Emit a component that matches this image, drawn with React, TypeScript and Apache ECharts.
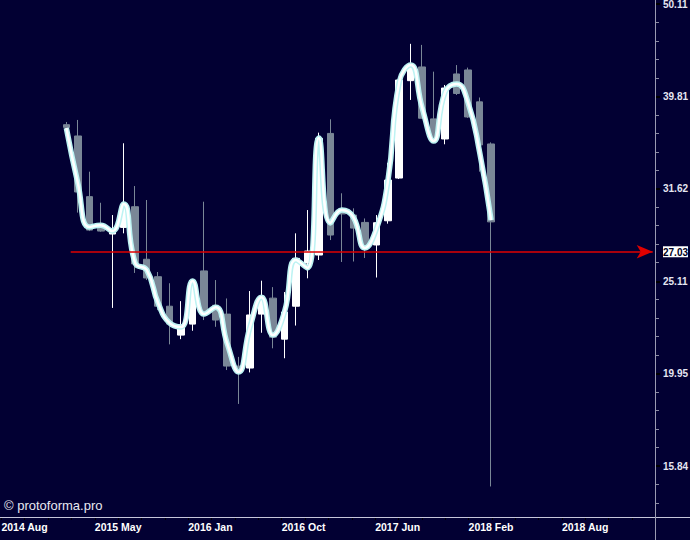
import React, { useEffect, useRef } from "react";
import * as echarts from "echarts";

// Monthly candles, Jan 2015 .. Feb 2018
const months = [
  "2015-01","2015-02","2015-03","2015-04","2015-05","2015-06","2015-07","2015-08","2015-09","2015-10","2015-11","2015-12",
  "2016-01","2016-02","2016-03","2016-04","2016-05","2016-06","2016-07","2016-08","2016-09","2016-10","2016-11","2016-12",
  "2017-01","2017-02","2017-03","2017-04","2017-05","2017-06","2017-07","2017-08","2017-09","2017-10","2017-11","2017-12",
  "2018-01","2018-02",
];
const opens = [37.1, 36.07, 31.01, 28.67, 28.25, 28.72, 30.24, 26.53, 25.4, 23.6, 21.96, 22.57, 25.77, 23.66, 23.14, 20.33, 20.23, 23.14, 24.08, 21.74, 23.6, 26.28, 26.81, 36.3, 30.07, 29.62, 29.08, 27.49, 29.2, 32.48, 41.4, 42.84, 37.64, 35.8, 42.1, 42.52, 39.27, 35.36];
const closes = [36.85, 31.37, 28.53, 28.46, 28.6, 30.37, 26.22, 25.32, 23.6, 22.57, 22.52, 25.0, 23.2, 22.8, 20.33, 20.03, 23.09, 24.2, 21.85, 23.26, 26.59, 27.08, 35.86, 28.18, 29.7, 28.67, 27.35, 29.06, 32.32, 41.47, 42.84, 37.7, 35.98, 40.65, 40.1, 37.82, 35.27, 29.12];
const highs = [37.35, 37.54, 33.0, 30.54, 29.62, 35.42, 31.84, 30.75, 25.7, 24.99, 23.9, 25.25, 30.62, 25.19, 24.06, 20.8, 24.51, 25.15, 24.75, 24.45, 28.3, 29.99, 36.37, 37.6, 31.27, 30.12, 29.37, 29.62, 33.74, 41.78, 45.38, 45.26, 42.34, 40.96, 43.04, 42.77, 39.7, 35.5];
const lows = [36.8, 29.8, 28.46, 28.41, 23.5, 28.3, 25.64, 25.19, 23.37, 21.46, 21.74, 22.2, 22.8, 22.42, 20.13, 18.5, 20.01, 22.09, 21.25, 20.73, 22.49, 25.3, 26.48, 27.83, 26.35, 26.38, 26.61, 25.35, 28.99, 32.4, 39.46, 37.68, 35.71, 35.33, 39.95, 37.73, 33.0, 15.06];
const trend = [36.79, 32.08, 28.75, 28.88, 28.46, 30.44, 26.28, 25.83, 23.78, 22.63, 22.41, 25.13, 23.14, 23.54, 21.53, 20.03, 22.41, 24.14, 21.96, 23.26, 26.48, 25.96, 35.89, 29.04, 29.99, 29.47, 27.29, 28.6, 32.16, 41.26, 43.04, 38.68, 35.62, 40.25, 41.06, 39.17, 34.66, 29.25];

const yTickLabels = ["50.11", "39.81", "31.62", "25.11", "19.95", "15.84"];
const lastPrice = 27.03;
const xTickLabels = ["2014 Aug", "2015 May", "2016 Jan", "2016 Oct", "2017 Jun", "2018 Feb", "2018 Aug"];

const lg = (v: number) => Math.log10(v);

export default function App() {
  const ref = useRef<HTMLDivElement>(null);
  useEffect(() => {
    if (!ref.current) return;
    const chart = echarts.init(ref.current, undefined, { renderer: "svg" });

    const X_MIN = -5.78;
    const X_MAX = 51.28;
    const X_LABEL_START = -5.66;
    const X_LABEL_STEP = 8.14;
    const xLabelPos = xTickLabels.map((_, k) => X_LABEL_START + k * X_LABEL_STEP);
    const xMinorPos: number[] = [];
    for (let k = 0; k < 28; k++) xMinorPos.push(X_LABEL_START + (k * X_LABEL_STEP) / 4);

    const Y_MIN = 1.1448;
    const Y_MAX = 1.7043;
    const yMajor = yTickLabels.map((s) => lg(parseFloat(s)));
    const yMinor: number[] = [];
    for (let v = 1.16; v < Y_MAX; v += 0.02) yMinor.push(v);
    const lastPos = lg(lastPrice);

    const candleData = months.map((_, i) => [i, lg(opens[i]), lg(closes[i]), lg(lows[i]), lg(highs[i])]);
    const trendData = trend.map((v, i) => [i, lg(v)]);
    const gray = "#7a8797";
    const labelFont = "'Liberation Sans', Arial, sans-serif";

    chart.setOption({
      animation: false,
      backgroundColor: "#020033",
      grid: { left: 0, right: 35, top: 0, bottom: 23, containLabel: false, outerBoundsMode: "none" },
      xAxis: {
        type: "value",
        min: X_MIN,
        max: X_MAX,
        splitLine: { show: false },
        axisLine: { show: false, onZero: false },
        axisTick: { show: true, customValues: xMinorPos, length: 3, lineStyle: { color: "#000000" } },
        axisLabel: {
          customValues: xLabelPos,
          formatter: (v: number) => {
            const k = xLabelPos.findIndex((p) => Math.abs(p - v) < 1e-6);
            return k >= 0 ? xTickLabels[k] : "";
          },
          align: "left",
          margin: 4,
          color: "#ffffff",
          fontFamily: labelFont,
          fontWeight: "bold",
          fontSize: 10.5,
        },
      },
      yAxis: [
        {
          type: "value",
          position: "right",
          min: Y_MIN,
          max: Y_MAX,
          splitLine: { show: false },
          axisLine: { show: false, onZero: false },
          axisTick: { show: true, customValues: yMinor, length: 4, lineStyle: { color: "#8a8aa2" } },
          axisLabel: { show: false },
        },
        {
          type: "value",
          position: "right",
          min: Y_MIN,
          max: Y_MAX,
          splitLine: { show: false },
          axisLine: { show: false, onZero: false },
          axisTick: { show: true, customValues: yMajor, length: 5, lineStyle: { color: "#000000", width: 2 } },
          axisLabel: {
            customValues: [...yMajor, lastPos],
            margin: 8,
            color: "#e6e6f2",
            fontFamily: labelFont,
            fontWeight: "bold",
            fontSize: 10,
            formatter: (v: number) => {
              if (Math.abs(v - lastPos) < 1e-9) return "{hl|" + lastPrice.toFixed(2) + "}";
              const k = yMajor.findIndex((p) => Math.abs(p - v) < 1e-9);
              return k >= 0 ? yTickLabels[k] : "";
            },
            rich: {
              hl: {
                backgroundColor: "#ffffff",
                color: "#000022",
                fontWeight: "bold",
                fontSize: 10,
                fontFamily: labelFont,
                padding: [1, 0, 0, 0],
                lineHeight: 10,
              },
            },
          },
        },
      ],
      series: [
        {
          type: "candlestick",
          data: candleData,
          encode: { x: 0, y: [1, 2, 3, 4] },
          barWidth: 7,
          itemStyle: {
            color: "#ffffff",
            color0: gray,
            borderColor: "#ffffff",
            borderColor0: gray,
            borderWidth: 1,
          },
          z: 2,
        },
        {
          type: "line",
          data: trendData,
          smooth: true,
          symbol: "none",
          lineStyle: { color: "#bdf3f3", width: 5.5 },
          z: 3,
        },
        {
          type: "line",
          data: trendData,
          smooth: true,
          symbol: "none",
          lineStyle: { color: "#ffffff", width: 2.5 },
          z: 4,
          markLine: {
            silent: true,
            symbol: ["none", "arrow"],
            symbolSize: [10, 16],
            label: { show: false },
            lineStyle: { color: "#e00000", width: 1.5, type: "solid" },
            data: [[{ coord: [0.38, lastPos] }, { coord: [51.08, lastPos] }]],
            z: 5,
          },
        },
      ],
      graphic: [
        { type: "line", shape: { x1: 0, y1: 517.5, x2: 690, y2: 517.5 }, style: { stroke: "#c6c6da", lineWidth: 1 }, z: 10 },
        { type: "line", shape: { x1: 655.5, y1: 0, x2: 655.5, y2: 540 }, style: { stroke: "#9a9ab2", lineWidth: 1 }, z: 10 },
        {
          type: "text",
          left: 4,
          top: 499,
          style: { text: "© protoforma.pro", fill: "#e8e8f0", font: "13px " + labelFont },
          z: 10,
        },
      ],
    });
    return () => chart.dispose();
  }, []);
  return <div ref={ref} style={{ position: "fixed", left: 0, top: 0, width: 690, height: 540 }} />;
}
